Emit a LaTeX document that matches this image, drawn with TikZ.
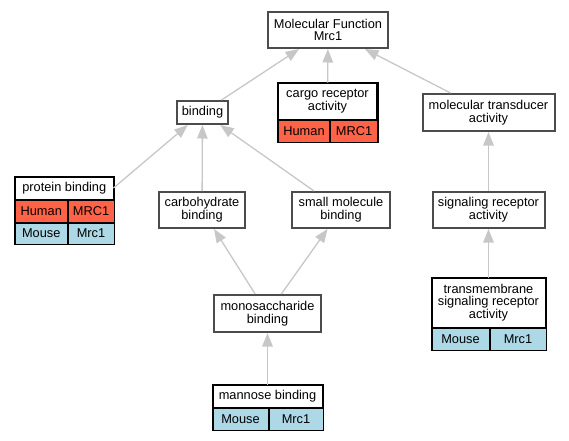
\documentclass[tikz,border=0pt]{standalone}
\usepackage{fontspec}
\setmainfont{Liberation Sans}
\usetikzlibrary{arrows.meta}
\newlength{\du}
\setlength{\du}{1pt}
\definecolor{termline}{rgb}{0.300000, 0.300000, 0.300000}
\definecolor{edgegray}{rgb}{0.780000, 0.780000, 0.780000}
\definecolor{humancolor}{rgb}{1.000000, 0.388235, 0.278431}
\definecolor{mousecolor}{rgb}{0.678431, 0.847059, 0.901961}

\begin{document}
\begin{tikzpicture}[x=1\du, y=-1\du,
  every node/.style={font=\fontsize{12.8}{12.8}\selectfont, inner sep=0pt, align=center},
  term/.style={draw=termline, line width=2\du, fill=white},
  head/.style={draw=black, line width=1\du, fill=white},
  cell/.style={draw=black, line width=1\du, anchor=north west, minimum height=22\du},
  human/.style={cell, fill=humancolor},
  mouse/.style={cell, fill=mousecolor},
  isa/.style={draw=edgegray, line width=1.3\du, -{Triangle[length=13.5pt, width=10.5pt]}}]
\useasboundingbox (0,0) rectangle (569,440);
% terms
\node[term, minimum width=120\du, minimum height=36\du] (mf) at (328,30) {Molecular Function\\Mrc1};
\node[term, minimum width=51\du, minimum height=23\du] (binding) at (202.5,112.5) {binding};
\node[head, minimum width=98\du, minimum height=36\du] (cargo) at (327.5,101) {cargo receptor\\activity};
\node[human, minimum width=51\du] (cargohu) at (cargo.south west) {Human};
\node[human, minimum width=47\du] (cargogn) at (cargohu.north east) {MRC1};
\node[term, minimum width=132\du, minimum height=37\du] (mt) at (488.5,112.5) {molecular transducer\\activity};
\node[head, minimum width=97.5\du, minimum height=22\du] (pb) at (64.25,188) {protein binding};
\node[human, minimum width=51.5\du] (pbhu) at (pb.south west) {Human};
\node[human, minimum width=46\du] (pbhg) at (pbhu.north east) {MRC1};
\node[mouse, minimum width=51.5\du, minimum height=21\du] (pbmu) at (pbhu.south west) {Mouse};
\node[mouse, minimum width=46\du, minimum height=21\du] (pbmg) at (pbmu.north east) {Mrc1};
\node[term, minimum width=86\du, minimum height=36\du] (carb) at (202,210) {carbohydrate\\binding};
\node[term, minimum width=98\du, minimum height=36\du] (smb) at (341,210) {small molecule\\binding};
\node[term, minimum width=112\du, minimum height=36\du] (srec) at (488.5,210) {signaling receptor\\activity};
\node[term, minimum width=107\du, minimum height=37\du] (mono) at (267.5,313.5) {monosaccharide\\binding};
\node[head, minimum width=113\du, minimum height=49\du] (tm) at (488.5,302.5) {transmembrane\\signaling receptor\\activity};
\node[mouse, minimum width=57\du] (tmmu) at (tm.south west) {Mouse};
\node[mouse, minimum width=56\du] (tmmg) at (tmmu.north east) {Mrc1};
\node[head, minimum width=109\du, minimum height=22\du] (man) at (267.5,396) {mannose binding};
\node[mouse, minimum width=55\du] (manmu) at (man.south west) {Mouse};
\node[mouse, minimum width=54\du] (manmg) at (manmu.north east) {Mrc1};
% table frames
\draw[line width=1.6\du] (cargo.north west) rectangle (cargogn.south east);
\draw[line width=1.6\du] (pb.north west) rectangle (pbmg.south east);
\draw[line width=1.6\du] (tm.north west) rectangle (tmmg.south east);
\draw[line width=1.6\du] (man.north west) rectangle (manmg.south east);
% is_a edges
\draw[isa] (binding) -- (mf);
\draw[isa] (cargo) -- (mf);
\draw[isa] (mt) -- (mf);
\draw[isa] (pb.east) -- (binding);
\draw[isa] (carb) -- (binding);
\draw[isa] (smb) -- (binding);
\draw[isa] (srec) -- (mt);
\draw[isa] (mono) -- (carb);
\draw[isa] (mono) -- (smb);
\draw[isa] (man) -- (mono);
\draw[isa] (tm) -- (srec);
\end{tikzpicture}
\end{document}
